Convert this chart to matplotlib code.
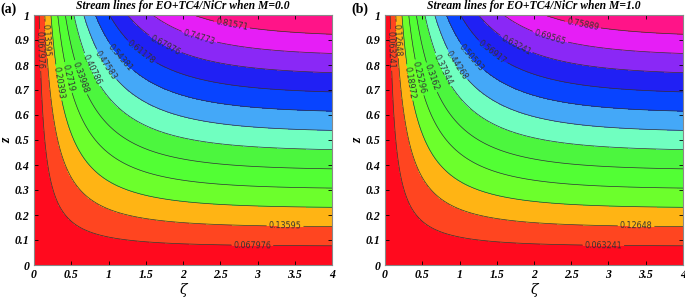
import numpy as np
import matplotlib
matplotlib.use("Agg")
import matplotlib.pyplot as plt
from matplotlib.ticker import FormatStrFormatter

# contour levels as printed on each panel
levels_a = [0.067976, 0.13595, 0.20393, 0.2719, 0.33988, 0.40786,
            0.47583, 0.54381, 0.61178, 0.67976, 0.74773, 0.81571]
labels_a = ["0.067976", "0.13595", "0.20393", "0.2719", "0.33988", "0.40786",
            "0.47583", "0.54381", "0.61178", "0.67976", "0.74773", "0.81571"]
levels_b = [0.063241, 0.12648, 0.18972, 0.25296, 0.3162, 0.37944,
            0.44268, 0.50593, 0.56917, 0.63241, 0.69565, 0.75889]
labels_b = ["0.063241", "0.12648", "0.18972", "0.25296", "0.3162", "0.37944",
            "0.44268", "0.50593", "0.56917", "0.63241", "0.69565", "0.75889"]

# stream function maximum (top right corner) and decay rate along zeta
psi_max_a = 0.88368
psi_max_b = 0.82213
decay_a = 1.14
decay_b = 1.14

titles = ["Stream lines for EO+TC4/NiCr when M=0.0",
          "Stream lines for EO+TC4/NiCr when M=1.0"]
panel_tags = ["(a)", "(b)"]

# height of the upper labels for each level, zeta of the two lower labels
label_z_top = [0.86, 0.90, 0.73, 0.75, 0.75, 0.78, 0.80, 0.83, 0.85, 0.88, 0.91, 0.96]
label_zeta_bottom = [2.93, 3.37]

band_colors = ["#ff0a1e", "#ff4520", "#ffb414", "#6cff2c", "#52ff34", "#4cf63e",
               "#70ffc0", "#44a8f8", "#0844ff", "#2020f4", "#8a28f6", "#e61ef6",
               "#ff1488"]

serif = "Liberation Serif"


def psi_field(zeta, z, psi_max, k):
    return psi_max * z * (1 - np.exp(-k * zeta)) / (1 - np.exp(-4 * k))


def label_points(levels, psi_max, k):
    norm = 1 - np.exp(-4 * k)
    pts = []
    for lev, zt in zip(levels, label_z_top):
        f = lev / psi_max * norm / zt
        pts.append((-np.log(1 - f) / k, zt))
    for lev, zb in zip(levels[:2], label_zeta_bottom):
        zz = lev / psi_max * norm / (1 - np.exp(-k * zb))
        pts.append((zb, zz))
    return pts


fig = plt.figure(figsize=(6.85, 2.97), dpi=100)
axes_pos = [[34 / 685, 32 / 297, 298 / 685, 250 / 297],
            [385 / 685, 32 / 297, 298 / 685, 250 / 297]]

zeta = np.linspace(0, 4, 400)
zz = np.linspace(0, 1, 300)
Zeta, Z = np.meshgrid(zeta, zz)

panels = [(levels_a, labels_a, psi_max_a, decay_a),
          (levels_b, labels_b, psi_max_b, decay_b)]

for i, (levs, labs, pmax, k) in enumerate(panels):
    ax = fig.add_axes(axes_pos[i])
    psi = psi_field(Zeta, Z, pmax, k)
    fill_levels = [0] + levs + [pmax * 1.01]
    ax.contourf(Zeta, Z, psi, levels=fill_levels, colors=band_colors)
    cs = ax.contour(Zeta, Z, psi, levels=levs, colors="#333333", linewidths=0.5)
    ax.clabel(cs, fmt=dict(zip(levs, labs)), fontsize=5.8, inline=True,
              inline_spacing=2, manual=label_points(levs, pmax, k))

    ax.set_xlim(0, 4)
    ax.set_ylim(0, 1)
    ax.set_xticks(np.arange(0, 4.01, 0.5))
    ax.set_yticks(np.arange(0, 1.01, 0.1))
    ax.xaxis.set_major_formatter(FormatStrFormatter("%g"))
    ax.yaxis.set_major_formatter(FormatStrFormatter("%g"))
    ax.tick_params(direction="in", length=3, width=0.6, top=True, right=True,
                   labelsize=8.5, pad=3)
    for lab in ax.get_xticklabels() + ax.get_yticklabels():
        lab.set_fontfamily(serif)
        lab.set_fontweight("bold")
        lab.set_fontstyle("italic")
    for sp in ax.spines.values():
        sp.set_color("#888888")
        sp.set_linewidth(0.8)

    ax.set_title(titles[i], fontfamily=serif, fontweight="bold", fontstyle="italic",
                 fontsize=8.4, pad=4)
    ax.set_xlabel("ζ", fontfamily="DejaVu Serif", fontstyle="italic", fontsize=10, labelpad=1)
    ax.set_ylabel("z", fontfamily=serif, fontweight="bold", fontstyle="italic",
                  fontsize=10, labelpad=1)
    fig.text(axes_pos[i][0] - 34 / 685, 1 - 3 / 297, panel_tags[i], fontfamily=serif,
             fontweight="bold", fontsize=10, ha="left", va="top")

fig.savefig("out.png", dpi=100)
